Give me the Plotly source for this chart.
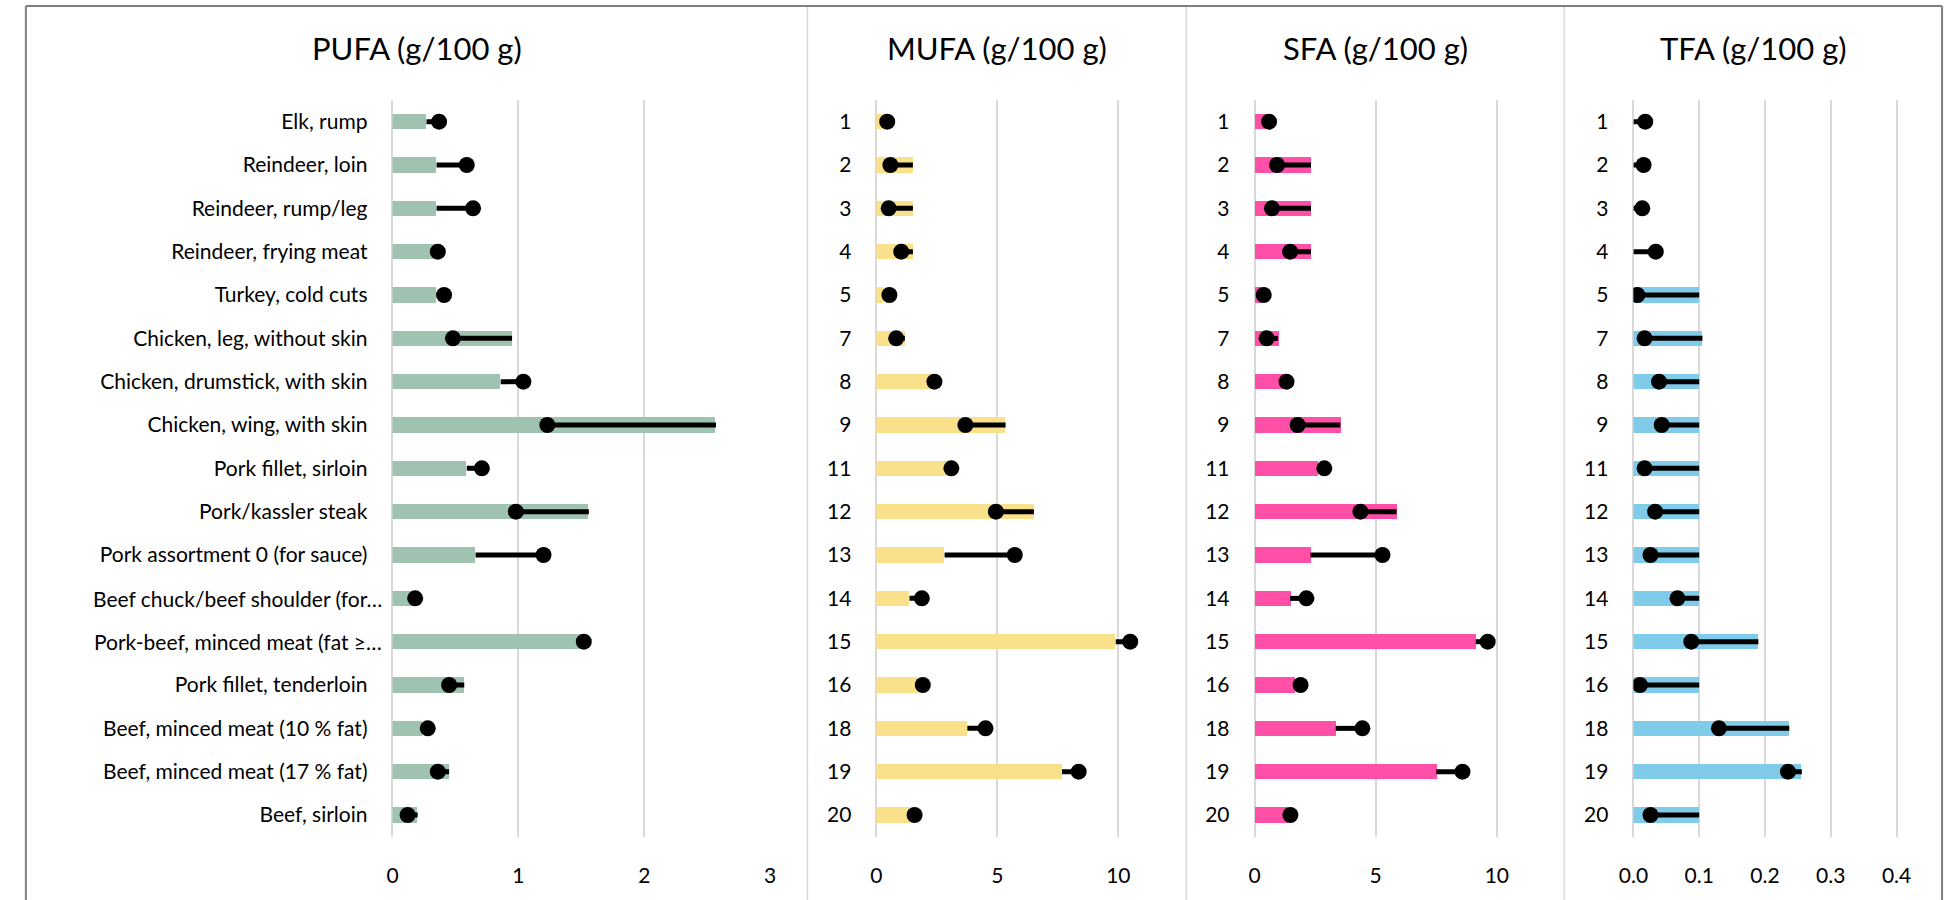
import plotly.graph_objects as go

# Food items (panel 1 labels) and their numeric ids (panels 2-4)
items = [
    "Elk, rump", "Reindeer, loin", "Reindeer, rump/leg", "Reindeer, frying meat",
    "Turkey, cold cuts", "Chicken, leg, without skin", "Chicken, drumstick, with skin",
    "Chicken, wing, with skin", "Pork fillet, sirloin", "Pork/kassler steak",
    "Pork assortment 0 (for sauce)", "Beef chuck/beef shoulder (for…",
    "Pork-beef, minced meat (fat ≥…", "Pork fillet, tenderloin",
    "Beef, minced meat (10 % fat)", "Beef, minced meat (17 % fat)", "Beef, sirloin",
]
item_ids = ["1", "2", "3", "4", "5", "7", "8", "9", "11", "12", "13", "14", "15", "16", "18", "19", "20"]

# Bar = reference value, dot = measured value (g/100 g)
pufa_bar = [0.27, 0.35, 0.35, 0.35, 0.35, 0.95, 0.86, 2.57, 0.59, 1.56, 0.66, 0.17, 1.50, 0.57, 0.24, 0.45, 0.20]
pufa_dot = [0.37, 0.59, 0.64, 0.36, 0.41, 0.48, 1.04, 1.23, 0.71, 0.98, 1.20, 0.18, 1.52, 0.45, 0.28, 0.36, 0.12]

mufa_bar = [0.35, 1.51, 1.51, 1.51, 0.30, 1.18, 2.30, 5.34, 3.00, 6.51, 2.82, 1.37, 9.89, 1.75, 3.76, 7.67, 1.40]
mufa_dot = [0.45, 0.58, 0.51, 1.03, 0.54, 0.82, 2.40, 3.68, 3.10, 4.94, 5.72, 1.88, 10.49, 1.92, 4.51, 8.36, 1.58]

sfa_bar = [0.50, 2.33, 2.33, 2.33, 0.30, 0.97, 1.20, 3.54, 2.60, 5.86, 2.31, 1.47, 9.13, 1.65, 3.35, 7.50, 1.35]
sfa_dot = [0.60, 0.93, 0.72, 1.47, 0.38, 0.50, 1.32, 1.78, 2.88, 4.37, 5.28, 2.14, 9.62, 1.90, 4.45, 8.58, 1.48]

tfa_bar = [0, 0, 0, 0, 0.10, 0.105, 0.10, 0.10, 0.10, 0.10, 0.10, 0.10, 0.19, 0.10, 0.237, 0.256, 0.10]
tfa_dot = [0.018, 0.0155, 0.0135, 0.034, 0.006, 0.017, 0.039, 0.043, 0.017, 0.033, 0.026, 0.067, 0.088, 0.010, 0.130, 0.235, 0.026]

titles = ["PUFA (g/100 g)", "MUFA (g/100 g)", "SFA (g/100 g)", "TFA (g/100 g)"]
bar_colors = ["#9fc3b0", "#f9e08b", "#ff4fa7", "#80cbea"]

W, H = 1952, 900
FONT = "Lato"
TICK_SIZE = 21

# plot-area pixel boxes, panel borders, axis settings
plot_x = [(381.6, 763.3), (870.7, 1164.3), (1253.0, 1547.0), (1636.0, 1928.6)]
x_ranges = [[0, 3], [0, 12], [0, 12], [0, 0.44]]
x_dticks = [1, 5, 5, 0.1]
x_formats = ["", "", "", ".1f"]
panel_edges = [11, 801, 1184, 1566, 1948]
plot_top, plot_bottom = 100.0, 836.7

panels = [
    (items, pufa_bar, pufa_dot),
    (item_ids, mufa_bar, mufa_dot),
    (item_ids, sfa_bar, sfa_dot),
    (item_ids, tfa_bar, tfa_dot),
]

# clipped (ellipsised) labels sit a little closer to the axis
clipped = [c for c in items if c.endswith("…")]

fig = go.Figure()
layout = dict(
    width=W, height=H, margin=dict(l=0, r=0, t=0, b=0),
    paper_bgcolor="white", plot_bgcolor="white", showlegend=False,
    font=dict(family=FONT, color="#000000"), bargap=0,
)

for i, (cats, bars, dots) in enumerate(panels):
    n = "" if i == 0 else str(i + 1)
    xa, ya = "x" + n, "y" + n
    fig.add_trace(go.Bar(
        y=cats, x=bars, orientation="h", xaxis=xa, yaxis=ya,
        width=0.35, marker=dict(color=bar_colors[i], line=dict(width=0)),
    ))
    lx, ly = [], []
    for c, b, d in zip(cats, bars, dots):
        lx += [b, d, None]
        ly += [c, c, None]
    fig.add_trace(go.Scatter(
        x=lx, y=ly, mode="lines", xaxis=xa, yaxis=ya,
        line=dict(color="black", width=5), connectgaps=False,
    ))
    fig.add_trace(go.Scatter(
        x=dots, y=cats, mode="markers", xaxis=xa, yaxis=ya,
        marker=dict(color="black", size=16, line=dict(width=0)),
    ))

    x0, x1 = plot_x[i]
    layout["xaxis" + n] = dict(
        domain=[x0 / W, x1 / W], anchor=ya, range=x_ranges[i], dtick=x_dticks[i],
        tick0=0, tickformat=x_formats[i], showgrid=True, gridcolor="#d9d9d9",
        gridwidth=1.5, zeroline=True, zerolinecolor="#d9d9d9", zerolinewidth=1.5,
        showline=False, ticks="", tickfont=dict(family=FONT, size=TICK_SIZE, color="#000000"),
        ticklabelstandoff=24, fixedrange=True,
    )
    ticktext = ["" if (i == 0 and c in clipped) else c for c in cats]
    layout["yaxis" + n] = dict(
        domain=[1 - plot_bottom / H, 1 - plot_top / H], anchor=xa, type="category",
        categoryorder="array", categoryarray=cats, range=[len(cats) - 0.5, -0.5],
        autorange=False, showgrid=False, zeroline=False, showline=False, ticks="",
        tickmode="array", tickvals=cats, ticktext=ticktext,
        tickfont=dict(family=FONT, size=TICK_SIZE, color="#000000"),
        ticklabelstandoff=24, fixedrange=True,
    )

fig.update_layout(**layout)

for c in clipped:
    fig.add_annotation(
        text=c, x=373 / W, y=c, xref="paper", yref="y",
        xanchor="right", yanchor="middle", showarrow=False,
        font=dict(family=FONT, size=TICK_SIZE, color="#000000"),
    )

# panel titles
for i, t in enumerate(titles):
    cx = (panel_edges[i] + panel_edges[i + 1]) / 2
    fig.add_annotation(
        text=t, x=cx / W, y=1 - 48 / H, xref="paper", yref="paper",
        xanchor="center", yanchor="middle", showarrow=False,
        font=dict(family=FONT, size=31, color="#000000"),
    )

# outer frame and panel separators
frame = "#7f7f7f"
fig.add_shape(type="line", xref="paper", yref="paper", x0=11 / W, x1=11 / W, y0=0, y1=1 - 6 / H,
              line=dict(color=frame, width=2))
fig.add_shape(type="line", xref="paper", yref="paper", x0=1948 / W, x1=1948 / W, y0=0, y1=1 - 6 / H,
              line=dict(color=frame, width=2))
fig.add_shape(type="line", xref="paper", yref="paper", x0=11 / W, x1=1948 / W, y0=1 - 6 / H, y1=1 - 6 / H,
              line=dict(color=frame, width=2))
for xe in panel_edges[1:-1]:
    fig.add_shape(type="line", xref="paper", yref="paper", x0=xe / W, x1=xe / W, y0=0, y1=1 - 7 / H,
                  line=dict(color="#d9d9d9", width=1.5))

fig.write_html("out.html")
